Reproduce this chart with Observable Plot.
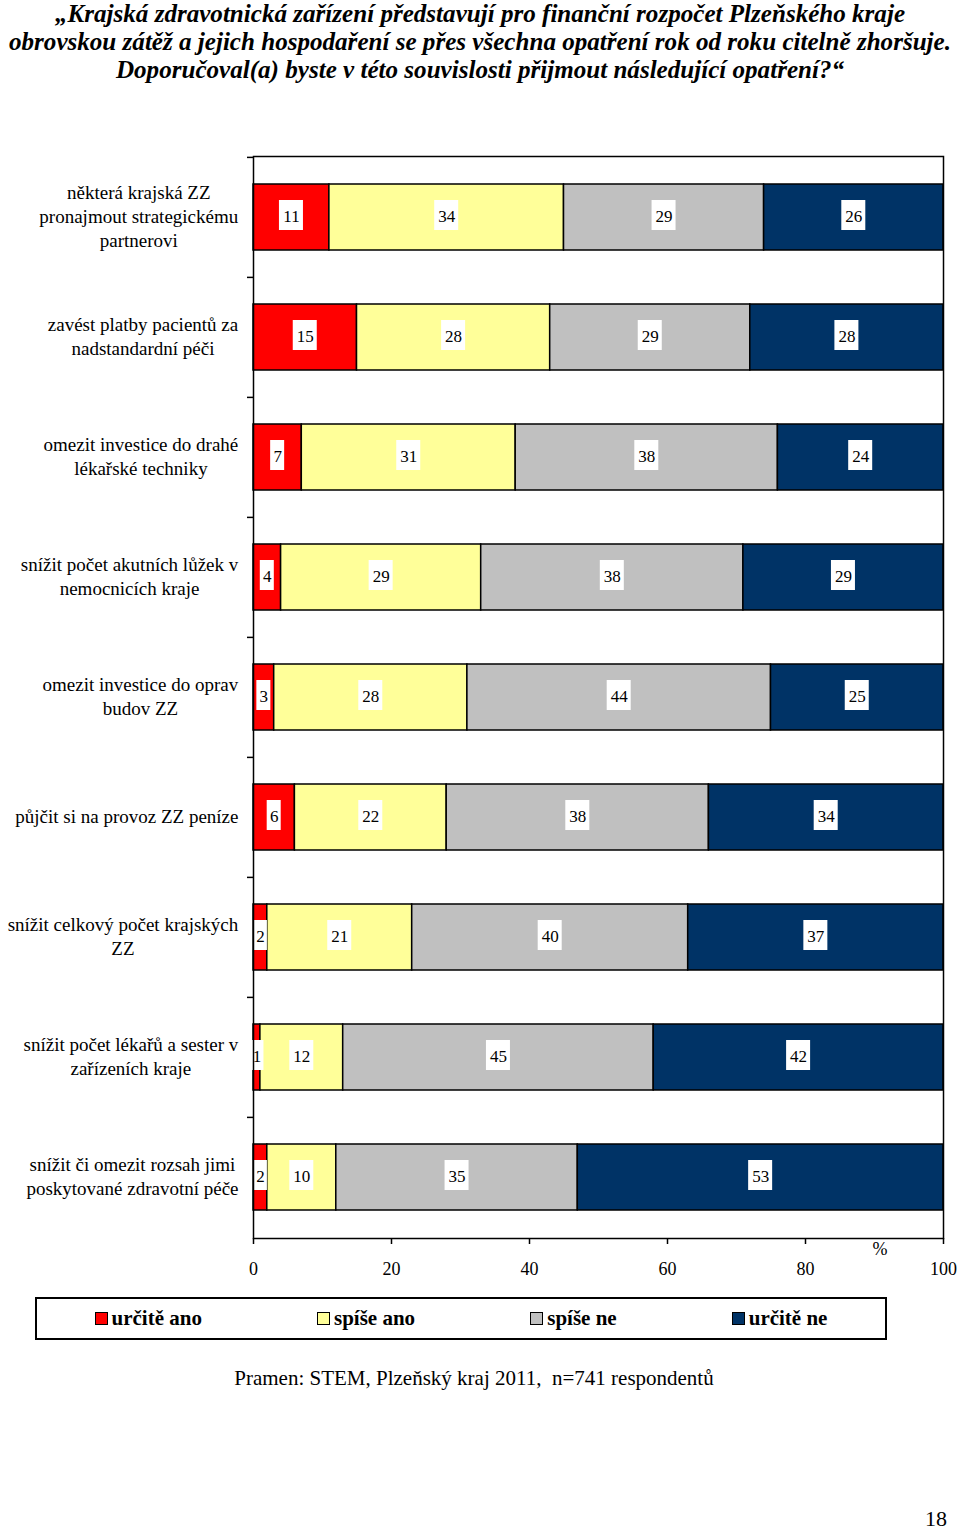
<!DOCTYPE html>
<html>
<head>
<meta charset="utf-8">
<script src="https://cdn.jsdelivr.net/npm/d3@7"></script>
<script src="https://cdn.jsdelivr.net/npm/@observablehq/plot@0.6"></script>
<style>
  body { margin: 0; background: #fff; font-family: "Liberation Serif", "Times New Roman", serif; color: #000; }
  #page { position: relative; width: 960px; height: 1530px; overflow: hidden; }
  #title { position: absolute; left: 0; top: 0; width: 960px; height: 90px; font-weight: bold; font-style: italic; font-size: 26px; line-height: 28px; }
  #title span { position: absolute; left: 480px; white-space: nowrap; transform-origin: 0 50%; }
  #chart { position: absolute; left: 0; top: 100px; }
  #legend { position: absolute; left: 35px; top: 1297px; width: 852px; height: 43px; border: 2px solid #000; box-sizing: border-box; display: flex; justify-content: space-around; align-items: center; padding: 0 0 1px 0; }
  .item { display: flex; align-items: center; font-weight: bold; font-size: 21px; white-space: nowrap; }
  .sw { width: 13px; height: 13px; border: 1px solid #000; margin-right: 4px; box-sizing: border-box; }
  #caption { position: absolute; left: 0; width: 948px; top: 1366px; text-align: center; font-size: 21px; white-space: pre; }
  #pagenum { position: absolute; right: 13px; top: 1506px; font-size: 22px; }
</style>
</head>
<body>
<div id="page">
  <div id="title"></div>
  <div id="chart"></div>
  <div id="legend"></div>
  <div id="caption"></div>
  <div id="pagenum"></div>
</div>
<script>
// ---- data ----
const titleLines = [
  "„Krajská zdravotnická zařízení představují pro finanční rozpočet Plzeňského kraje",
  "obrovskou zátěž a jejich hospodaření se přes všechna opatření rok od roku citelně zhoršuje.",
  "Doporučoval(a) byste v této souvislosti přijmout následující opatření?“"
];
const categories = [
  "některá krajská ZZ\npronajmout strategickému\npartnerovi",
  "zavést platby pacientů za\nnadstandardní péči",
  "omezit investice do drahé\nlékařské techniky",
  "snížit počet akutních lůžek v\nnemocnicích kraje",
  "omezit investice do oprav\nbudov ZZ",
  "půjčit si na provoz ZZ peníze",
  "snížit celkový počet krajských\nZZ",
  "snížit počet lékařů a sester v\nzařízeních kraje",
  "snížit či omezit rozsah jimi\nposkytované zdravotní péče"
];
const seriesNames = ["určitě ano", "spíše ano", "spíše ne", "určitě ne"];
const seriesColors = ["#ff0000", "#ffff99", "#c0c0c0", "#003366"];
const urciteAno = [11, 15, 7, 4, 3, 6, 2, 1, 2];
const spiseAno  = [34, 28, 31, 29, 28, 22, 21, 12, 10];
const spiseNe   = [29, 29, 38, 38, 44, 38, 40, 45, 35];
const urciteNe  = [26, 28, 24, 29, 25, 34, 37, 42, 53];
const xTicks = [0, 20, 40, 60, 80, 100];
const unitLabel = "%";
const caption = "Pramen: STEM, Plzeňský kraj 2011,  n=741 respondentů";
const pageNumber = "18";

// ---- build tidy table ----
const seriesValues = [urciteAno, spiseAno, spiseNe, urciteNe];
const rows = [];
categories.forEach((cat, i) => {
  let cum = 0;
  seriesValues.forEach((vals, s) => {
    const v = vals[i];
    rows.push({cat, series: seriesNames[s], value: v, mid: cum + v / 2});
    cum += v;
  });
});

// ---- title (condensed like the original) ----
const titleEl = document.getElementById("title");
const spans = titleLines.map((t, i) => {
  const s = document.createElement("span");
  s.textContent = t;
  s.style.top = (i * 28) + "px";
  titleEl.appendChild(s);
  return s;
});
const k = 942 / spans[1].getBoundingClientRect().width;
spans.forEach(s => {
  const w = s.getBoundingClientRect().width;
  s.style.transform = `translateX(${-w * k / 2}px) scaleX(${k})`;
});

// ---- chart ----
const W = 960, H = 1188;
const mTop = 56, mBottom = 50, mLeft = 253, mRight = 17;
const innerH = H - mTop - mBottom;
const halfStep = innerH / categories.length / 2;

const chart = Plot.plot({
  width: W,
  height: H,
  marginTop: mTop,
  marginBottom: mBottom,
  marginLeft: mLeft,
  marginRight: mRight,
  style: {fontFamily: "'Liberation Serif', 'Times New Roman', serif", fontSize: "18px", color: "#000", background: "#fff"},
  x: {domain: [xTicks[0], xTicks[xTicks.length - 1]], label: null},
  y: {domain: categories, paddingInner: 0.45, paddingOuter: 0.225, label: null},
  color: {domain: seriesNames, range: seriesColors},
  marks: [
    Plot.barX(rows, Plot.stackX({x: "value", y: "cat", fill: "series", order: seriesNames, stroke: "#000", strokeWidth: 1.5})),
    Plot.rect(rows.filter(d => d.value < 10), {x1: "mid", x2: "mid", y: "cat", fill: "#fff", insetLeft: -7, insetRight: -7, insetTop: 16, insetBottom: 20}),
    Plot.rect(rows.filter(d => d.value >= 10), {x1: "mid", x2: "mid", y: "cat", fill: "#fff", insetLeft: -12, insetRight: -12, insetTop: 16, insetBottom: 20}),
    Plot.text(rows, {x: "mid", y: "cat", text: d => String(d.value), fontSize: 17, dy: -1, fill: "#000"}),
    Plot.ruleY(categories, {y: d => d, x1: xTicks[0], x2: xTicks[0], insetLeft: -6, dy: -halfStep, stroke: "#000", strokeWidth: 1.5}),
    Plot.frame({stroke: "#000", strokeWidth: 1.5}),
    Plot.axisX({ticks: xTicks, tickSize: 6, tickPadding: 18, fontSize: 18, label: null, stroke: "#000", strokeWidth: 1.5}),
    Plot.axisY({tickSize: 0, tickPadding: 15, fontSize: 19, lineHeight: 1.263, label: null}),
    Plot.text([unitLabel], {text: d => d, frameAnchor: "bottom-right", dx: -56, dy: 16, fontSize: 18})
  ]
});
document.getElementById("chart").appendChild(chart);

// center-align the multi-line category labels, keeping their right edge at the axis padding
const svg = document.querySelector("#chart svg");
svg.querySelectorAll('g[aria-label="y-axis tick label"] text').forEach(t => {
  const w = t.getBBox().width;
  t.setAttribute("text-anchor", "middle");
  t.setAttribute("transform", (t.getAttribute("transform") || "") + ` translate(${-w / 2},-2)`);
});

// ---- legend ----
const legend = document.getElementById("legend");
seriesNames.forEach((n, i) => {
  const it = document.createElement("div");
  it.className = "item";
  const sw = document.createElement("span");
  sw.className = "sw";
  sw.style.background = seriesColors[i];
  const lb = document.createElement("span");
  lb.textContent = n;
  it.appendChild(sw);
  it.appendChild(lb);
  legend.appendChild(it);
});

document.getElementById("caption").textContent = caption;
document.getElementById("pagenum").textContent = pageNumber;
</script>
</body>
</html>
